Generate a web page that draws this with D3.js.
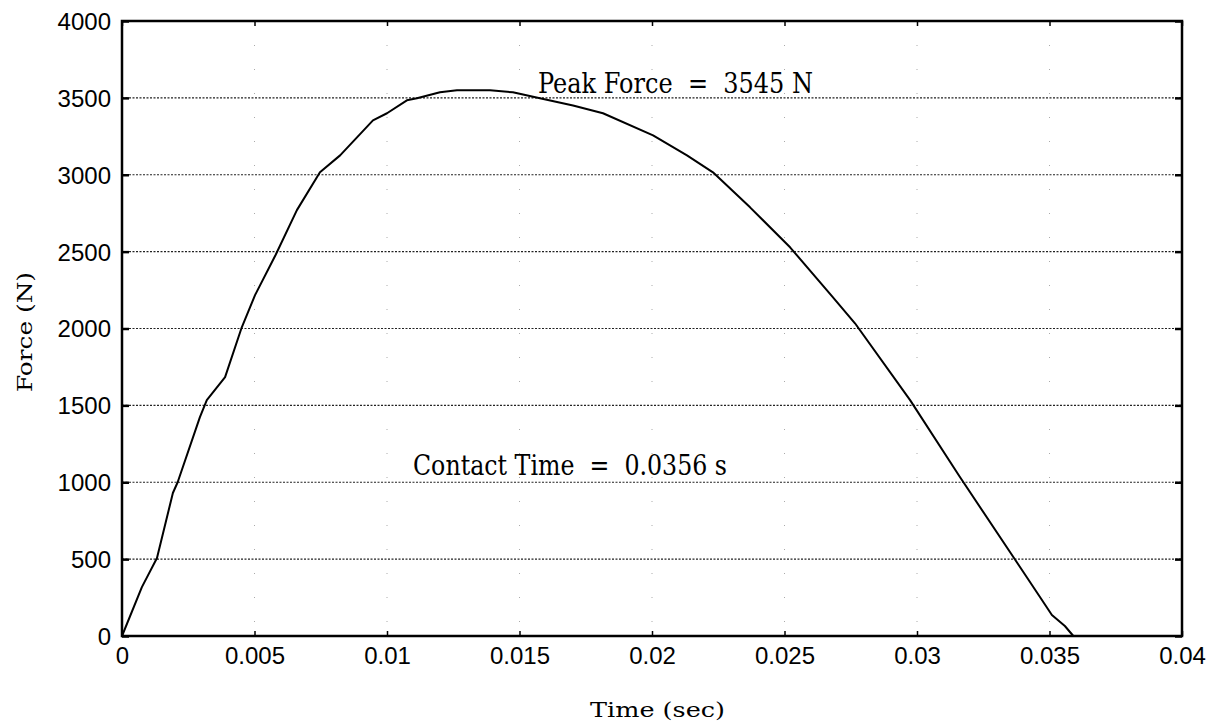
<!DOCTYPE html>
<html>
<head>
<meta charset="utf-8">
<script src="https://cdn.jsdelivr.net/npm/d3@7"></script>
<style>
  html, body { margin: 0; padding: 0; background: #fff; }
  svg { display: block; }
  text.pre { white-space: pre; }
</style>
</head>
<body>
<svg id="chart" width="1220" height="727"></svg>
<script>
// ---- data ----
const timeValues = [0, 0.00075, 0.00132, 0.00192, 0.0021, 0.00294, 0.0032, 0.00389, 0.00452, 0.00502,
  0.0058, 0.0066, 0.00747, 0.00823, 0.00947, 0.0100, 0.01075, 0.01113, 0.0120, 0.01264,
  0.01389, 0.01475, 0.01577, 0.01702, 0.01815, 0.02004, 0.02132, 0.0223, 0.0237, 0.02521,
  0.02683, 0.02766, 0.02974, 0.03162, 0.03464, 0.03509, 0.03558, 0.0359, 0.04];
const forceValues = [0, 318, 507, 930, 1000, 1424, 1534, 1684, 2008, 2217,
  2480, 2770, 3016, 3126, 3354, 3400, 3484, 3497, 3536, 3550,
  3550, 3536, 3497, 3451, 3400, 3256, 3126, 3016, 2788, 2528,
  2203, 2034, 1534, 1034, 254, 137, 65, 0, 0];
const xTicks = [0, 0.005, 0.01, 0.015, 0.02, 0.025, 0.03, 0.035, 0.04];
const xTickLabels = ["0", "0.005", "0.01", "0.015", "0.02", "0.025", "0.03", "0.035", "0.04"];
const yTicks = [0, 500, 1000, 1500, 2000, 2500, 3000, 3500, 4000];
const yTickLabels = ["0", "500", "1000", "1500", "2000", "2500", "3000", "3500", "4000"];
const peakLabel = "Peak Force  =  3545 N";
const contactLabel = "Contact Time  =  0.0356 s";
const xAxisTitle = "Time (sec)";
const yAxisTitle = "Force (N)";

// ---- layout ----
const L = 122, R = 1182, T = 21, B = 636;
const svg = d3.select("#chart");
const x = d3.scaleLinear().domain([0, 0.04]).range([L, R]);
const y = d3.scaleLinear().domain([0, 4000]).range([B, T]);

// vertical faint grid
svg.append("g").selectAll("line").data(xTicks.slice(1, -1)).join("line")
  .attr("x1", d => x(d)).attr("x2", d => x(d)).attr("y1", T).attr("y2", B)
  .attr("stroke", "#aaa").attr("stroke-width", 1).attr("stroke-dasharray", "1,23");

// horizontal dotted grid
svg.append("g").selectAll("line").data(yTicks.slice(1, -1)).join("line")
  .attr("x1", L).attr("x2", R).attr("y1", d => y(d)).attr("y2", d => y(d))
  .attr("stroke", "#222").attr("stroke-width", 1.1).attr("stroke-dasharray", "2,1.5");

// axes with inward ticks
const fontSans = "'Liberation Sans', Arial, sans-serif";
const yAxisL = svg.append("g").attr("transform", `translate(${L},0)`)
  .call(d3.axisLeft(y).tickValues(yTicks).tickFormat((d, i) => yTickLabels[i]).tickSize(-7).tickPadding(11));
const yAxisR = svg.append("g").attr("transform", `translate(${R},0)`)
  .call(d3.axisRight(y).tickValues(yTicks).tickFormat("").tickSize(-7));
const xAxisB = svg.append("g").attr("transform", `translate(0,${B})`)
  .call(d3.axisBottom(x).tickValues(xTicks).tickFormat((d, i) => xTickLabels[i]).tickSize(-5).tickPadding(11));
const xAxisT = svg.append("g").attr("transform", `translate(0,${T})`)
  .call(d3.axisTop(x).tickValues(xTicks).tickFormat("").tickSize(-5));

[yAxisL, yAxisR, xAxisB, xAxisT].forEach(g => {
  g.select(".domain").remove();
  g.selectAll(".tick line").attr("stroke", "#000").attr("stroke-width", 2.5);
  g.selectAll("text").attr("font-family", fontSans).attr("font-size", 24).attr("fill", "#000");
});
xAxisB.selectAll(".tick line").attr("stroke-width", 1.5);
xAxisT.selectAll(".tick line").attr("stroke-width", 1.5);
yAxisL.selectAll(".tick text").attr("dy", "0.35em");
xAxisB.selectAll(".tick text").attr("dy", "0.72em");

// frame
svg.append("rect").attr("x", L).attr("y", T).attr("width", R - L).attr("height", B - T)
  .attr("fill", "none").attr("stroke", "#000").attr("stroke-width", 2.5);

// curve
const pts = timeValues.map((t, i) => [t, forceValues[i]]);
svg.append("path").datum(pts)
  .attr("d", d3.line().x(d => x(d[0])).y(d => y(d[1])))
  .attr("fill", "none").attr("stroke", "#000").attr("stroke-width", 2).attr("stroke-linejoin", "round");

// annotations
const fontSerif = "'DejaVu Serif', 'Liberation Serif', serif";
svg.append("text").attr("class", "pre").text(peakLabel)
  .attr("x", 538).attr("y", 93).attr("font-family", fontSerif).attr("font-size", 28)
  .attr("textLength", 275).attr("lengthAdjust", "spacingAndGlyphs").attr("fill", "#000");
svg.append("text").attr("class", "pre").text(contactLabel)
  .attr("x", 413).attr("y", 475).attr("font-family", fontSerif).attr("font-size", 27)
  .attr("textLength", 314).attr("lengthAdjust", "spacingAndGlyphs").attr("fill", "#000");

// axis titles
svg.append("text").text(xAxisTitle)
  .attr("x", 590).attr("y", 717).attr("font-family", fontSerif).attr("font-size", 21)
  .attr("textLength", 135).attr("lengthAdjust", "spacingAndGlyphs").attr("fill", "#000");
svg.append("text").text(yAxisTitle)
  .attr("transform", "translate(32,392) rotate(-90)")
  .attr("font-family", fontSerif).attr("font-size", 21)
  .attr("textLength", 120).attr("lengthAdjust", "spacingAndGlyphs").attr("fill", "#000");
</script>
</body>
</html>
